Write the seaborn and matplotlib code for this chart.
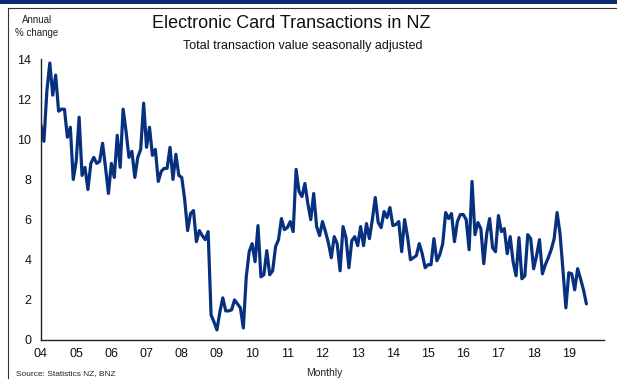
import numpy as np
import pandas as pd
import matplotlib
matplotlib.use("Agg")
import matplotlib.pyplot as plt
import seaborn as sns
from matplotlib.patches import Rectangle
from matplotlib.lines import Line2D

# Annual % change, monthly, Jan 2004 - Jul 2019
v2004 = [10.7, 9.9, 12.4, 13.8, 12.2, 13.2, 11.4, 11.5, 11.5, 10.1, 10.6, 8.0]
v2005 = [8.9, 11.1, 8.2, 8.6, 7.5, 8.8, 9.1, 8.8, 8.9, 9.8, 8.6, 7.3]
v2006 = [8.8, 8.1, 10.2, 8.6, 11.5, 10.4, 9.1, 9.4, 8.1, 9.1, 9.5, 11.8]
v2007 = [9.6, 10.6, 9.2, 9.5, 7.9, 8.4, 8.55, 8.55, 9.6, 8.0, 9.25, 8.2]
v2008 = [8.1, 7.0, 5.45, 6.3, 6.45, 4.9, 5.45, 5.2, 5.0, 5.4, 1.25, 0.9]
v2009 = [0.5, 1.4, 2.1, 1.45, 1.45, 1.5, 2.0, 1.8, 1.6, 0.6, 3.15, 4.4]
v2010 = [4.8, 3.9, 5.7, 3.15, 3.25, 4.45, 3.25, 3.45, 4.65, 5.0, 6.05, 5.5]
v2011 = [5.6, 5.9, 5.4, 8.5, 7.4, 7.15, 7.8, 6.8, 6.0, 7.3, 5.65, 5.2]
v2012 = [5.9, 5.4, 4.85, 4.1, 5.15, 4.8, 3.45, 5.65, 5.1, 3.6, 4.95, 5.15]
v2013 = [4.7, 5.65, 4.7, 5.8, 5.05, 6.0, 7.1, 5.85, 5.6, 6.4, 6.1, 6.6]
v2014 = [5.7, 5.75, 5.9, 4.4, 6.0, 5.15, 4.0, 4.1, 4.2, 4.8, 4.3, 3.6]
v2015 = [3.75, 3.75, 5.05, 3.95, 4.25, 4.8, 6.35, 6.05, 6.3, 4.9, 5.9, 6.25]
v2016 = [6.25, 6.0, 4.5, 7.9, 5.25, 5.85, 5.55, 3.8, 5.3, 6.05, 4.6, 4.4]
v2017 = [6.2, 5.4, 5.55, 4.3, 5.15, 3.9, 3.2, 5.1, 3.05, 3.2, 5.25, 5.05]
v2018 = [3.55, 4.2, 5.0, 3.3, 3.75, 4.1, 4.5, 5.05, 6.35, 5.3, 3.5, 1.6]
v2019 = [3.35, 3.3, 2.5, 3.55, 3.05, 2.5, 1.8]

tick_years = list(range(2004, 2020))
tick_labels = ["04", "05", "06", "07", "08", "09", "10", "11", "12",
               "13", "14", "15", "16", "17", "18", "19"]
y_ticks = [0, 2, 4, 6, 8, 10, 12, 14]

values = (v2004 + v2005 + v2006 + v2007 + v2008 + v2009 + v2010 + v2011 +
          v2012 + v2013 + v2014 + v2015 + v2016 + v2017 + v2018 + v2019)
df = pd.DataFrame({"t": 2004 + np.arange(len(values)) / 12.0, "v": values})

sns.set_style("white")
plt.rcParams["font.family"] = ["Liberation Sans", "DejaVu Sans"]

fig = plt.figure(figsize=(6.17, 3.79), dpi=100)
ax = fig.add_axes([41 / 617, 1 - 340 / 379, (604 - 41) / 617, (340 - 59) / 379])

navy = "#07317F"
sns.lineplot(data=df, x="t", y="v", ax=ax, color=navy, linewidth=2.3)

ax.set_xlim(2004, 2020)
ax.set_ylim(0, 14)
ax.set_xticks(tick_years)
ax.set_xticklabels(tick_labels)
ax.set_yticks(y_ticks)
ax.set_xlabel("")
ax.set_ylabel("")
for s in ["top", "right"]:
    ax.spines[s].set_visible(False)
for s in ["left", "bottom"]:
    ax.spines[s].set_color("#222222")
    ax.spines[s].set_linewidth(1.0)
ax.tick_params(axis="x", direction="inout", length=5, width=1, colors="#222222",
               labelsize=9, pad=3, labelcolor="#111111")
ax.tick_params(axis="y", direction="out", length=4, width=1, colors="#222222",
               labelsize=9, pad=3, labelcolor="#111111")

# header band and frame
fig.add_artist(Rectangle((0, 1 - 4 / 379), 1, 4 / 379, transform=fig.transFigure,
                         facecolor="#0B2A6F", edgecolor="none"))
fig.add_artist(Line2D([8 / 617, 1], [1 - 8 / 379, 1 - 8 / 379], transform=fig.transFigure,
                      color="#333333", linewidth=0.8))
fig.add_artist(Line2D([8 / 617, 8 / 617], [0, 1 - 8 / 379], transform=fig.transFigure,
                      color="#333333", linewidth=0.8))

fig.text(291 / 617, 1 - 23 / 379, "Electronic Card Transactions in NZ", ha="center",
         va="center", fontsize=13, color="#111111")
fig.text(303 / 617, 1 - 46 / 379, "Total transaction value seasonally adjusted", ha="center",
         va="center", fontsize=9, color="#111111")
fig.text(37 / 617, 1 - 20 / 379, "Annual", ha="center", va="center", fontsize=7,
         color="#222222")
fig.text(37 / 617, 1 - 33 / 379, "% change", ha="center", va="center", fontsize=7,
         color="#222222")
fig.text(16 / 617, 1 - 374 / 379, "Source: Statistics NZ, BNZ", ha="left", va="center",
         fontsize=6, color="#222222")
fig.text(324 / 617, 1 - 373 / 379, "Monthly", ha="center", va="center", fontsize=7.5,
         color="#222222")

fig.savefig("out.png", dpi=100)
